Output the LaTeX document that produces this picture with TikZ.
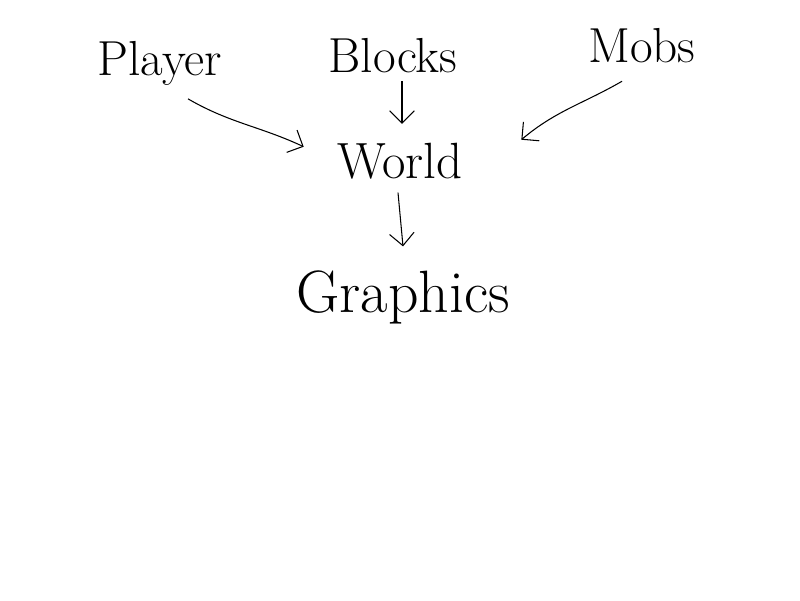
\documentclass[tikz,border=0pt]{standalone}
\usepackage{tikz}
\usetikzlibrary{arrows.meta,calc}

\begin{document}
\begin{tikzpicture}[
   word/.style={anchor=base,inner sep=2pt,font=\fontsize{28}{32}\selectfont},
   flow/.style={-{Straight Barb[length=7pt,width=14pt]},line width=0.6pt}]
   \useasboundingbox (0,0) rectangle (16,-12);

   %名字
   \node (player) at (3.2,-1.5) [word]{Player};
   \node (blocks) at (7.86,-1.44) [word]{Blocks};
   \node (mobs) at (12.84,-1.24) [word]{Mobs};
   \node (world) at (8.0,-3.56) [word,font=\fontsize{29}{33}\selectfont]{World};
   \node (graphics) at (8.06,-6.24) [word,font=\fontsize{34}{38}\selectfont]{Graphics};

   %箭头
   \draw [flow] ([shift={(0.56,-0.2)}]player.south) to[out=-30,in=155] ([shift={(-0.6,0.28)}]world.west);
   \draw [flow] ([shift={(0.18,-0.1)}]blocks.south) -- ([shift={(0.04,0.3)}]world.north);
   \draw [flow] ([shift={(-0.4,-0.3)}]mobs.south) to[out=-150,in=40] ([shift={(1.1,0.42)}]world.east);
   \draw [flow] ([shift={(-0.04,-0.2)}]world.south) -- ([shift={(0,0.4)}]graphics.north);
\end{tikzpicture}
\end{document}
